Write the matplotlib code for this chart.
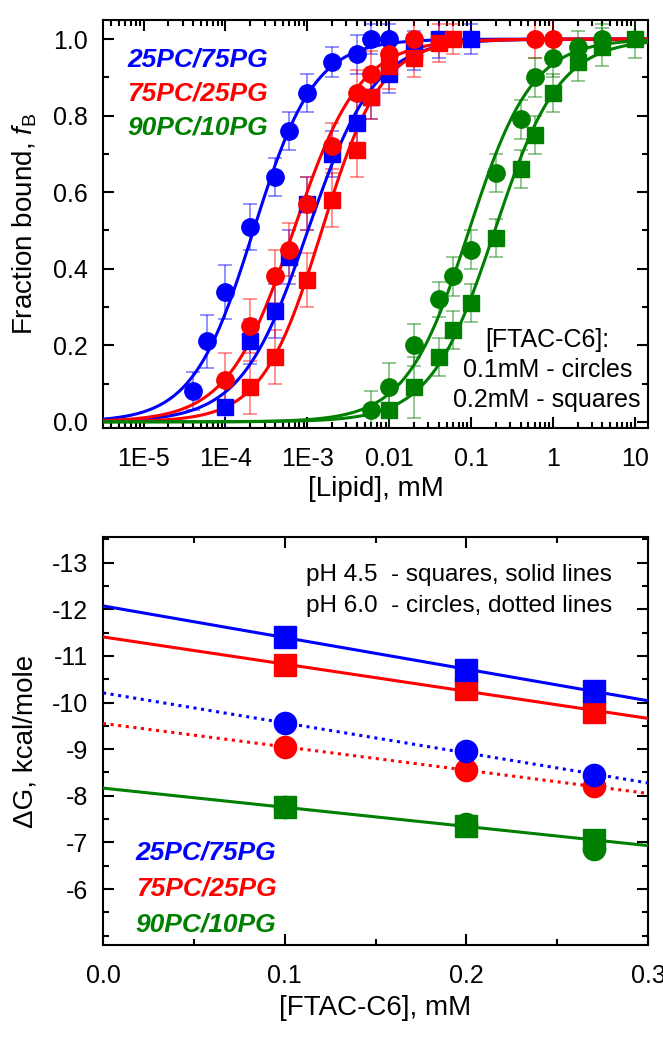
import matplotlib
matplotlib.use("Agg")
import matplotlib.pyplot as plt
import numpy as np
from matplotlib.ticker import FixedLocator, FixedFormatter, LogLocator, NullFormatter, MultipleLocator

plt.rcParams["font.family"] = ["Liberation Sans", "DejaVu Sans"]
plt.rcParams["mathtext.fontset"] = "custom"
plt.rcParams["mathtext.rm"] = "Liberation Sans"
plt.rcParams["mathtext.it"] = "Liberation Sans:italic"

BLUE = "#0000ff"
RED = "#ff0000"
GREEN = "#008000"

# top panel: fraction bound vs [Lipid], mM (circles 0.1 mM, squares 0.2 mM FTAC-C6)
blue_circ_x = [4e-5, 6e-5, 1e-4, 2e-4, 4e-4, 6e-4, 1e-3, 2e-3, 4e-3, 6e-3, 1e-2]
blue_circ_y = [0.08, 0.21, 0.34, 0.51, 0.64, 0.76, 0.86, 0.94, 0.96, 1.0, 1.0]
blue_circ_e = [0.05, 0.07, 0.07, 0.06, 0.05, 0.05, 0.05, 0.04, 0.05, 0.04, 0.04]

blue_sq_x = [1e-4, 2e-4, 4e-4, 6e-4, 1e-3, 2e-3, 4e-3, 6e-3, 1e-2, 2e-2, 4e-2, 1e-1]
blue_sq_y = [0.04, 0.21, 0.29, 0.43, 0.57, 0.70, 0.78, 0.85, 0.91, 0.97, 1.0, 1.0]
blue_sq_e = [0.06, 0.06, 0.07, 0.07, 0.07, 0.06, 0.06, 0.06, 0.05, 0.05, 0.05, 0.04]

red_circ_x = [1e-4, 2e-4, 4e-4, 6e-4, 1e-3, 2e-3, 4e-3, 6e-3, 1e-2, 2e-2, 0.6, 1.0]
red_circ_y = [0.11, 0.25, 0.38, 0.45, 0.57, 0.72, 0.86, 0.91, 0.96, 1.0, 1.0, 1.0]
red_circ_e = [0.07, 0.07, 0.07, 0.07, 0.07, 0.06, 0.06, 0.06, 0.05, 0.05, 0.05, 0.05]

red_sq_x = [2e-4, 4e-4, 1e-3, 2e-3, 4e-3, 6e-3, 1e-2, 2e-2, 4e-2, 6e-2]
red_sq_y = [0.09, 0.17, 0.37, 0.58, 0.71, 0.85, 0.93, 0.95, 0.99, 1.0]
red_sq_e = [0.07, 0.07, 0.07, 0.07, 0.07, 0.06, 0.06, 0.05, 0.05, 0.04]

green_circ_x = [6e-3, 1e-2, 2e-2, 4e-2, 6e-2, 0.1, 0.2, 0.4, 0.6, 1.0, 2.0, 4.0]
green_circ_y = [0.03, 0.09, 0.20, 0.32, 0.38, 0.45, 0.65, 0.79, 0.90, 0.95, 0.98, 1.0]
green_circ_e = [0.05, 0.065, 0.055, 0.045, 0.05, 0.05, 0.05, 0.05, 0.05, 0.05, 0.04, 0.04]

green_sq_x = [1e-2, 2e-2, 4e-2, 6e-2, 0.1, 0.2, 0.4, 0.6, 1.0, 2.0, 4.0, 10.0]
green_sq_y = [0.03, 0.09, 0.17, 0.24, 0.31, 0.48, 0.66, 0.75, 0.86, 0.94, 0.98, 1.0]
green_sq_e = [0.07, 0.08, 0.05, 0.05, 0.05, 0.05, 0.05, 0.05, 0.05, 0.05, 0.05, 0.05]

log_ticks = [1e-5, 1e-4, 1e-3, 1e-2, 1e-1, 1, 10]
log_tick_labels = ["1E-5", "1E-4", "1E-3", "0.01", "0.1", "1", "10"]

# bottom panel: dG vs [FTAC-C6], mM
ftac = [0.1, 0.2, 0.27]
dg_blue_sq = [-11.4, -10.7, -10.25]
dg_red_sq = [-10.8, -10.3, -9.8]
dg_blue_ci = [-9.55, -8.95, -8.45]
dg_red_ci = [-9.05, -8.55, -8.2]
dg_green_sq = [-7.75, -7.35, -7.05]
dg_green_ci = [-7.75, -7.4, -6.85]
dg_ticks = [-13, -12, -11, -10, -9, -8, -7, -6]

names = ["25PC/75PG", "75PC/25PG", "90PC/10PG"]
colors = [BLUE, RED, GREEN]


def hill_curve(x, f, xs):
    # linear fit of logit(f) vs log10(x) -> Hill curve
    x = np.asarray(x)
    f = np.asarray(f)
    m = (f > 0.02) & (f < 0.97)
    n, b = np.polyfit(np.log10(x[m]), np.log10(f[m] / (1 - f[m])), 1)
    return 1.0 / (1.0 + 10 ** (-(n * np.log10(xs) + b)))


def style_axes(ax):
    for s in ax.spines.values():
        s.set_linewidth(1.5)
    ax.tick_params(which="both", direction="in", top=True, right=True,
                   width=1.5, labelsize=18)
    ax.tick_params(which="major", length=8)
    ax.tick_params(which="minor", length=4)
    ax.tick_params(axis="x", which="major", pad=14)
    ax.tick_params(axis="y", which="major", pad=11)


fig = plt.figure(figsize=(6.63, 10.5), dpi=100)
ax1 = fig.add_axes([0.1554, 0.5924, 0.8220, 0.3886])
ax2 = fig.add_axes([0.1554, 0.1000, 0.8220, 0.3886])

# ---- top panel
xmin, xmax = 3.2e-6, 14.4
xs = np.logspace(np.log10(xmin), np.log10(xmax), 500)

series = [
    (blue_circ_x, blue_circ_y, blue_circ_e, BLUE, "o"),
    (blue_sq_x, blue_sq_y, blue_sq_e, BLUE, "s"),
    (red_circ_x, red_circ_y, red_circ_e, RED, "o"),
    (red_sq_x, red_sq_y, red_sq_e, RED, "s"),
    (green_circ_x, green_circ_y, green_circ_e, GREEN, "o"),
    (green_sq_x, green_sq_y, green_sq_e, GREEN, "s"),
]
for x, y, e, c, mk in series:
    ax1.errorbar(x, y, yerr=e, fmt="none", ecolor=c, alpha=0.5,
                 elinewidth=1.2, capsize=5, capthick=1.2, zorder=2)
    ax1.plot(xs, hill_curve(x, y, xs), color=c, lw=2.2, zorder=3)
    ms = 12.5 if mk == "o" else 11
    ax1.plot(x, y, mk, color=c, ms=ms, mec=c, zorder=4)

ax1.set_xscale("log")
ax1.set_xlim(xmin, xmax)
ax1.set_ylim(-0.016, 1.05)
ax1.xaxis.set_major_locator(FixedLocator(log_ticks))
ax1.xaxis.set_major_formatter(FixedFormatter(log_tick_labels))
ax1.xaxis.set_minor_locator(LogLocator(base=10, subs=np.arange(2, 10), numticks=20))
ax1.xaxis.set_minor_formatter(NullFormatter())
ax1.yaxis.set_major_locator(MultipleLocator(0.2))
ax1.yaxis.set_minor_locator(MultipleLocator(0.1))
ax1.yaxis.set_major_formatter(plt.FuncFormatter(lambda v, p: f"{v:.1f}"))
style_axes(ax1)
ax1.set_xlabel("[Lipid], mM", fontsize=20, labelpad=3)
ax1.set_ylabel(r"Fraction bound, $\it{f}_{\rm B}$", fontsize=20)
ax1.yaxis.set_label_coords(-0.118, 0.5)

for i, (nm, c) in enumerate(zip(names, colors)):
    ax1.text(0.045, 0.902 - i * 0.083, nm, transform=ax1.transAxes, color=c,
             fontsize=19, fontweight="bold", fontstyle="italic", va="center")

for i, t in enumerate(["[FTAC-C6]:", "0.1mM - circles", "0.2mM - squares"]):
    ax1.text(0.815, 0.216 - i * 0.074, t, transform=ax1.transAxes,
             fontsize=18, ha="center", va="center")

# ---- bottom panel
xl = np.linspace(0, 0.3, 50)
dg_series = [
    (dg_green_ci, GREEN, "o", None),
    (dg_green_sq, GREEN, "s", "-"),
    (dg_red_ci, RED, "o", (0, (1, 1.5))),
    (dg_blue_ci, BLUE, "o", (0, (1, 1.5))),
    (dg_red_sq, RED, "s", "-"),
    (dg_blue_sq, BLUE, "s", "-"),
]
for y, c, mk, ls in dg_series:
    if ls is None:
        continue
    k, b = np.polyfit(ftac, y, 1)
    ax2.plot(xl, k * xl + b, color=c, lw=2.2, ls=ls, zorder=3)
for y, c, mk, ls in dg_series:
    ax2.plot(ftac, y, mk, color=c, ms=16 if mk == "o" else 15.5, zorder=4)

ax2.set_xlim(0, 0.3)
ax2.set_ylim(-4.8, -13.55)
ax2.xaxis.set_major_locator(MultipleLocator(0.1))
ax2.xaxis.set_minor_locator(MultipleLocator(0.05))
ax2.xaxis.set_major_formatter(plt.FuncFormatter(lambda v, p: f"{v:.1f}"))
ax2.yaxis.set_major_locator(FixedLocator(dg_ticks))
ax2.yaxis.set_minor_locator(MultipleLocator(0.5))
ax2.yaxis.set_major_formatter(plt.FuncFormatter(lambda v, p: f"{v:.0f}"))
style_axes(ax2)
ax2.set_xlabel("[FTAC-C6], mM", fontsize=20, labelpad=5)
ax2.set_ylabel("\u0394G, kcal/mole", fontsize=20)
ax2.yaxis.set_label_coords(-0.118, 0.5)

ax2.text(0.372, 0.906, "pH 4.5  - squares, solid lines", transform=ax2.transAxes,
         fontsize=17.5, va="center")
ax2.text(0.372, 0.832, "pH 6.0  - circles, dotted lines", transform=ax2.transAxes,
         fontsize=17.5, va="center")

for i, (nm, c) in enumerate(zip(names, colors)):
    ax2.text(0.06, 0.227 - i * 0.088, nm, transform=ax2.transAxes, color=c,
             fontsize=19, fontweight="bold", fontstyle="italic", va="center")

fig.savefig("out.png", dpi=100)
